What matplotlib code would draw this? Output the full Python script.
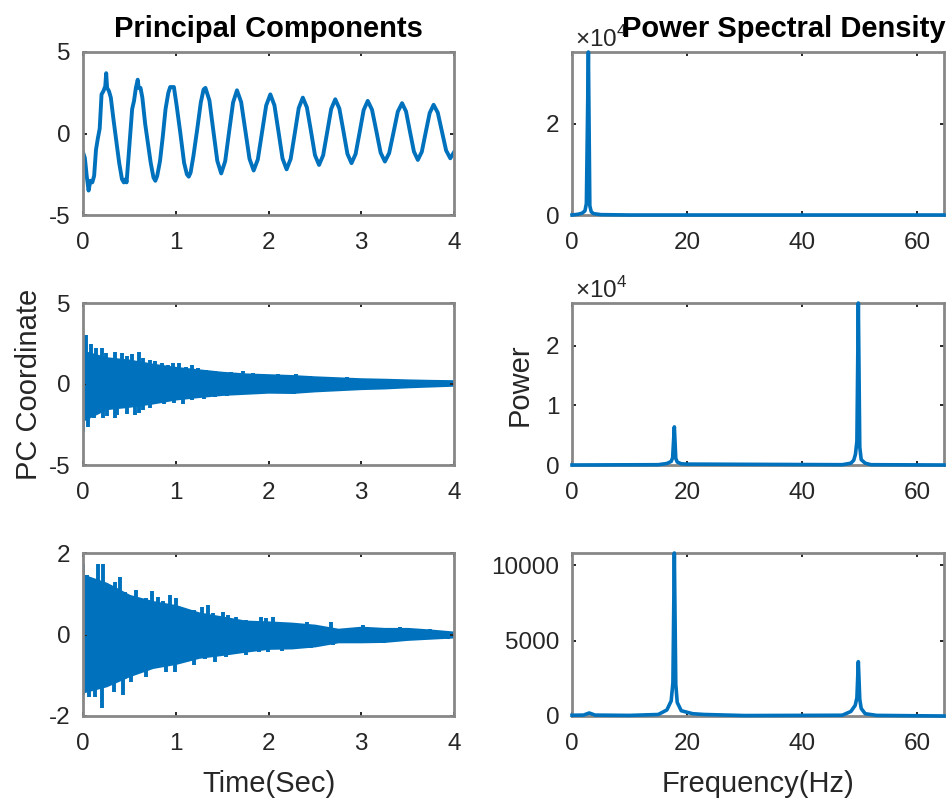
import numpy as np
import matplotlib
matplotlib.use("Agg")
import matplotlib.pyplot as plt
from matplotlib.ticker import FuncFormatter

plt.rcParams['font.family'] = ['Liberation Sans', 'DejaVu Sans']
plt.rcParams['mathtext.fontset'] = 'custom'
plt.rcParams['mathtext.rm'] = 'Liberation Sans'
plt.rcParams['axes.unicode_minus'] = False

BLUE = '#0072BD'
TXT = '#262626'
BOX = '#878787'

# ---- PC 1 (time, value) ----
pc1_t = [0.00, 0.02, 0.04, 0.06, 0.08, 0.10, 0.12, 0.14, 0.16, 0.18, 0.20, 0.22,
         0.24, 0.25, 0.26, 0.28, 0.30, 0.33, 0.36, 0.39, 0.42, 0.44, 0.46, 0.47,
         0.49, 0.51, 0.53, 0.55, 0.57, 0.59, 0.60, 0.62, 0.64, 0.67, 0.70, 0.73,
         0.76, 0.78, 0.80, 0.83, 0.86, 0.89, 0.92, 0.94, 0.98, 1.01, 1.05, 1.09,
         1.12, 1.14, 1.16, 1.19, 1.23, 1.27, 1.30, 1.32,
         1.363, 1.405, 1.448, 1.49, 1.533, 1.575, 1.618, 1.66, 1.705, 1.75, 1.795,
         1.84, 1.885, 1.93, 1.975, 2.02, 2.064, 2.108, 2.151, 2.195, 2.239, 2.283,
         2.326, 2.37, 2.414, 2.458, 2.501, 2.545, 2.589, 2.633, 2.676, 2.72, 2.764,
         2.808, 2.851, 2.895, 2.939, 2.983, 3.026, 3.07, 3.116, 3.163, 3.209, 3.255,
         3.301, 3.348, 3.394, 3.44, 3.483, 3.525, 3.568, 3.61, 3.653, 3.695, 3.738,
         3.78, 3.825, 3.87, 3.915, 3.96, 4.00]
pc1_v = [-1.15, -1.5, -2.6, -3.5, -2.9, -3.0, -2.6, -1.0, -0.3, 0.3, 2.4, 2.6,
         2.9, 3.7, 2.8, 2.6, 2.2, 0.8, -0.5, -1.8, -2.8, -3.0, -2.8, -3.0,
         -1.5, 0.0, 1.5, 2.0, 2.8, 3.3, 2.8, 2.8, 2.2, 0.6, -0.6, -1.8,
         -2.7, -2.9, -2.6, -1.7, -0.2, 1.5, 2.5, 2.85, 2.85, 1.7, 0.0, -1.8,
         -2.5, -2.65, -2.4, -1.4, 0.2, 1.9, 2.7, 2.8,
         2.03, 0.18, -1.68, -2.45, -1.70, 0.10, 1.90, 2.65, 1.93, 0.19, -1.55,
         -2.27, -1.59, 0.07, 1.72, 2.40, 1.73, 0.10, -1.53, -2.20, -1.56, 0.00,
         1.56, 2.20, 1.60, 0.14, -1.33, -1.93, -1.34, 0.09, 1.51, 2.10, 1.53,
         0.14, -1.25, -1.82, -1.26, 0.09, 1.44, 2.00, 1.46, 0.14, -1.18, -1.72,
         -1.20, 0.07, 1.34, 1.86, 1.35, 0.12, -1.11, -1.62, -1.12, 0.07, 1.26,
         1.76, 1.28, 0.12, -1.04, -1.52, -1.15]

# ---- PC 2: dense band (core edges) plus spikes ----
band_t = [0, 0.25, 0.5, 0.75, 1.0, 1.25, 1.5, 1.75, 2.0, 2.25, 2.5, 2.75,
          3.0, 3.25, 3.5, 3.75, 4.0]
pc2_hi = [2.0, 1.6, 1.45, 1.2, 1.0, 0.85, 0.7, 0.6, 0.55, 0.5, 0.42, 0.36,
          0.3, 0.27, 0.23, 0.2, 0.18]
pc2_lo = [-2.2, -1.5, -1.35, -1.15, -0.9, -0.75, -0.62, -0.55, -0.48, -0.5, -0.4,
          -0.33, -0.26, -0.22, -0.15, -0.1, -0.05]
pc2_up_t = [0.01, 0.03, 0.09, 0.14, 0.20, 0.25, 0.30, 0.35, 0.42, 0.47, 0.53,
            0.60, 0.65, 0.72, 0.78, 0.85, 0.92, 0.97, 1.04, 1.11, 1.17, 1.24,
            1.33, 1.42, 1.51, 1.60, 1.72, 1.83, 1.94, 2.10, 2.30, 2.45, 2.65,
            2.85, 3.10, 3.30, 3.55, 3.80]
pc2_up_v = [3.0, 3.0, 2.45, 2.2, 2.25, 1.9, 1.5, 1.95, 1.93, 1.7, 1.83,
            1.95, 1.6, 1.5, 1.4, 1.28, 1.17, 1.28, 1.28, 1.07, 1.17, 0.97,
            0.86, 0.8, 0.76, 0.72, 0.8, 0.66, 0.6, 0.6, 0.62, 0.5, 0.45,
            0.42, 0.3, 0.3, 0.25, 0.22]
pc2_dn_t = [0.0, 0.05, 0.12, 0.22, 0.26, 0.34, 0.37, 0.47, 0.56, 0.60, 0.65,
            0.72, 0.87, 0.98, 1.08, 1.18, 1.30, 1.42, 1.55, 1.66, 1.80, 1.98,
            2.15, 2.28, 2.50, 2.70, 2.90, 3.15, 3.40, 3.65, 3.90]
pc2_dn_v = [-2.95, -2.65, -2.1, -2.1, -2.0, -2.1, -1.9, -1.85, -1.93, -1.8, -1.6,
            -1.5, -1.25, -1.15, -1.25, -1.0, -0.9, -0.8, -0.72, -0.7, -0.6, -0.55,
            -0.55, -0.64, -0.45, -0.4, -0.38, -0.3, -0.27, -0.15, -0.1]

# ---- PC 3 ----
pc3_hi = [1.45, 1.25, 0.95, 0.8, 0.7, 0.52, 0.42, 0.32, 0.3, 0.27, 0.22, 0.12,
          0.17, 0.14, 0.14, 0.1, 0.05]
pc3_lo = [-1.4, -1.25, -1.0, -0.8, -0.7, -0.55, -0.48, -0.4, -0.33, -0.32, -0.27,
          -0.17, -0.17, -0.16, -0.11, -0.08, -0.05]
pc3_up_t = [0.0, 0.04, 0.09, 0.16, 0.22, 0.29, 0.34, 0.40, 0.45, 0.50, 0.57,
            0.68, 0.74, 0.81, 0.86, 0.94, 1.00, 1.06, 1.13, 1.20, 1.28, 1.35,
            1.40, 1.51, 1.56, 1.65, 1.76, 1.83, 1.92, 1.97, 2.05, 2.42, 2.67,
            3.02, 3.42, 3.74]
pc3_up_v = [1.72, 1.45, 1.38, 1.72, 1.72, 1.22, 1.28, 1.42, 1.05, 0.97, 1.09,
            0.89, 1.07, 0.93, 0.81, 0.97, 0.89, 0.64, 0.6, 0.6, 0.68, 0.72,
            0.52, 0.56, 0.48, 0.44, 0.36, 0.32, 0.44, 0.4, 0.44, 0.3, 0.3,
            0.23, 0.19, 0.14]
pc3_dn_t = [0.0, 0.06, 0.13, 0.20, 0.24, 0.33, 0.43, 0.52, 0.60, 0.68, 0.79,
            0.90, 0.99, 1.11, 1.20, 1.31, 1.42, 1.54, 1.65, 1.76, 1.90, 1.99,
            2.15, 2.46, 2.70, 2.85, 3.02, 3.24, 3.56, 3.93]
pc3_dn_v = [-1.49, -1.53, -1.53, -1.8, -1.24, -1.41, -1.49, -1.16, -0.95, -1.04,
            -0.79, -0.91, -0.91, -0.67, -0.75, -0.59, -0.67, -0.55, -0.42, -0.51,
            -0.42, -0.42, -0.4, -0.34, -0.26, -0.18, -0.17, -0.22, -0.14, -0.11]

# ---- power spectra ----
psd1_f = [0, 1.0, 1.75, 2.25, 2.5, 2.85, 3.1, 3.35, 3.75, 5.0, 10.0, 64.7]
psd1_p = [0, 150, 400, 900, 2500, 35800, 2000, 700, 300, 80, 0, 0]

psd2_f = [0, 15.0, 16.5, 17.25, 17.5, 17.8, 18.05, 18.3, 19.0, 20.0, 47.0, 48.5,
          49.0, 49.3, 49.55, 49.8, 50.05, 50.3, 51.0, 52.0, 64.7]
psd2_p = [0, 50, 250, 600, 1200, 6400, 1100, 500, 200, 150, 50, 300,
          800, 1800, 4000, 27200, 3000, 900, 300, 50, 0]

psd3_f = [0, 2.0, 3.0, 4.0, 10.0, 15.0, 16.5, 17.25, 17.55, 17.8, 18.05, 18.3,
          19.0, 21.0, 23.0, 30.0, 47.0, 48.5, 49.25, 49.55, 49.8, 50.05, 50.3,
          51.0, 53.0, 64.7]
psd3_p = [50, 60, 200, 60, 40, 100, 400, 1000, 2200, 10800, 2100, 900,
          350, 150, 100, 30, 50, 300, 700, 1200, 3600, 1100, 500,
          150, 40, 0]

fig = plt.figure(figsize=(9.5, 8.02), dpi=100)
W, H = 950.0, 802.0


def px_axes(x0, y0, x1, y1):
    return fig.add_axes([x0 / W, 1 - y1 / H, (x1 - x0) / W, (y1 - y0) / H])


def style(ax):
    for s in ax.spines.values():
        s.set_color(BOX)
        s.set_linewidth(2.0)
    ax.tick_params(direction='in', length=3, width=1.4, color=TXT,
                   labelcolor=TXT, labelsize=17.5, top=True, right=True)
    ax.tick_params(axis='x', pad=12)
    ax.tick_params(axis='y', pad=9)


rows = [(52, 215), (303, 465), (553, 716)]
left = [px_axes(83, r0, 454, r1) for r0, r1 in rows]
right = [px_axes(572, r0, 944, r1) for r0, r1 in rows]

# left column: time series
ax = left[0]
ax.plot(pc1_t, pc1_v, color=BLUE, lw=2.8)
ax.set_ylim(-5, 5)
ax.set_yticks([-5, 0, 5])

for ax, hi, lo, ut, uv, dt, dv, lim in [
        (left[1], pc2_hi, pc2_lo, pc2_up_t, pc2_up_v, pc2_dn_t, pc2_dn_v, 5),
        (left[2], pc3_hi, pc3_lo, pc3_up_t, pc3_up_v, pc3_dn_t, pc3_dn_v, 2)]:
    ax.fill_between(band_t, lo, hi, color=BLUE, lw=2.0, edgecolor=BLUE)
    ax.vlines(ut, 0, uv, color=BLUE, lw=2.8)
    ax.vlines(dt, dv, 0, color=BLUE, lw=2.8)
    ax.set_ylim(-lim, lim)
    ax.set_yticks([-lim, 0, lim])

for ax in left:
    ax.set_xlim(0, 4)
    ax.set_xticks([0, 1, 2, 3, 4])
    style(ax)

# right column: spectra
for ax, f, p in [(right[0], psd1_f, psd1_p), (right[1], psd2_f, psd2_p),
                 (right[2], psd3_f, psd3_p)]:
    ax.plot(f, p, color=BLUE, lw=2.6, clip_on=False, zorder=3)
    ax.set_xlim(0, 64.7)
    ax.set_ylim(0, max(p))
    ax.set_xticks([0, 20, 40, 60])
    style(ax)

sci = FuncFormatter(lambda v, _: '%g' % (v / 1e4))
right[0].set_yticks([0, 20000])
right[0].yaxis.set_major_formatter(sci)
right[1].set_yticks([0, 10000, 20000])
right[1].yaxis.set_major_formatter(sci)
right[2].set_yticks([0, 5000, 10000])

for ax in right[:2]:
    ax.text(3 / 372, 1.0, '×10$^{4}$', transform=ax.transAxes, ha='left',
            va='bottom', fontsize=17.5, color=TXT)

# titles and labels
fig.text(268.5 / W, 1 - 37 / H, 'Principal Components', ha='center',
         va='baseline', fontsize=21, fontweight='bold', color='black')
fig.text(783.5 / W, 1 - 37 / H, 'Power Spectral Density', ha='center',
         va='baseline', fontsize=21, fontweight='bold', color='black', zorder=5)
fig.text(29 / W, 1 - 384 / H, 'PC Coordinate', rotation=90, ha='center',
         va='center', fontsize=21, color=TXT)
fig.text(520 / W, 1 - 385 / H, 'Power', rotation=90, ha='center',
         va='center', fontsize=21, color=TXT)
fig.text(269 / W, 1 - 792 / H, 'Time(Sec)', ha='center', va='baseline',
         fontsize=21, color=TXT)
fig.text(757.5 / W, 1 - 792 / H, 'Frequency(Hz)', ha='center', va='baseline',
         fontsize=21, color=TXT)

fig.savefig('out.png', dpi=100, facecolor='white')
